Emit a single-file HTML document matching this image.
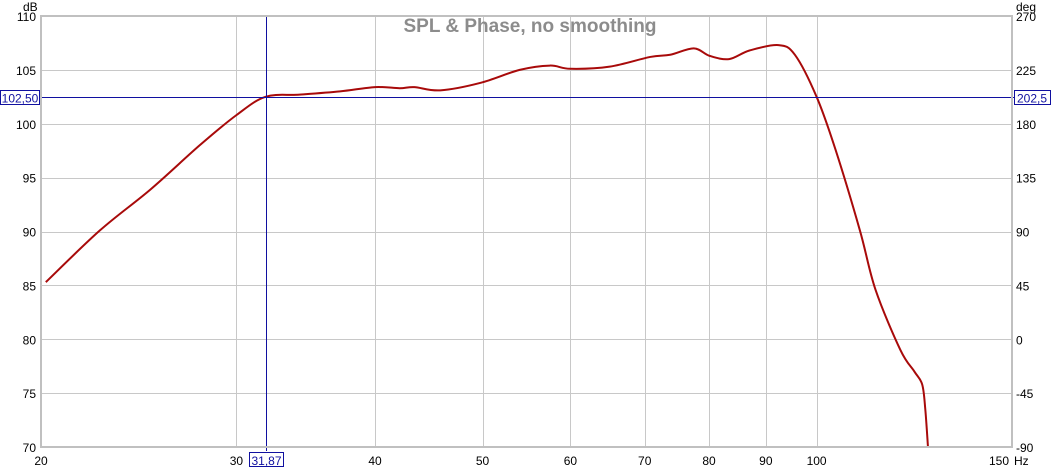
<!DOCTYPE html>
<html><head><meta charset="utf-8"><style>
html,body{margin:0;padding:0;background:#fff;}
svg{display:block;font-family:"Liberation Sans",Arial,sans-serif;}
</style></head><body>
<svg id="chart" width="1061" height="468" viewBox="0 0 1061 468" xmlns="http://www.w3.org/2000/svg">
<g id="grid"></g>
<g id="labels"></g>
<text x="530" y="32" text-anchor="middle" font-size="19" font-weight="bold" fill="#8c8c8c">SPL &amp; Phase, no smoothing</text>
<path id="curve" fill="none" stroke="#a80a0a" stroke-width="2"/>
<g id="cursor"></g>
<rect x="41" y="16" width="971" height="431" fill="none" stroke="#c0c0c0" stroke-width="2"/>
</svg>
<script>
const freqs=[20.2,22.6,25.1,27.8,30,31.87,34.2,37.2,40,42.1,43.4,45.8,49.8,54,57.5,60,65.1,70.8,73.8,77.5,80.1,83.4,87,92.4,95.6,100,104,109.4,113,119,122.5,124.5,125.3,126];
const spl=[85.3,90.1,93.9,98.0,100.8,102.5,102.7,103.0,103.4,103.3,103.4,103.1,103.8,105.0,105.4,105.1,105.3,106.2,106.4,107.0,106.3,106.0,106.8,107.3,106.4,102.5,97.6,90.1,84.6,79.0,77.0,75.8,73.5,70];
const xTicks=[20,30,40,50,60,70,80,90,100,150];
const xTickLabels=["20","30","40","50","60","70","80","90","100","150"];
const yTicks=[70,75,80,85,90,95,100,105,110];
const phaseTicks=["-90","-45","0","45","90","135","180","225","270"];
const cursorX=31.87, cursorY=102.5;
const L=41,R=1012,T=16,B=447;
const NS="http://www.w3.org/2000/svg";
function xs(f){return L+(R-L)*Math.log(f/20)/Math.log(150/20);}
function ys(v){return B-(B-T)*(v-70)/40;}
function mk(tag,attrs,parent,text){const e=document.createElementNS(NS,tag);for(const k in attrs)e.setAttribute(k,attrs[k]);if(text!==undefined)e.textContent=text;parent.appendChild(e);return e;}
const grid=document.getElementById('grid'),lab=document.getElementById('labels');
xTicks.forEach((f,i)=>{const x=xs(f);
 if(i>0&&i<xTicks.length-1){const gx=Math.round(x)+0.5;const l=mk('line',{x1:gx,x2:gx,y1:T,y2:B,stroke:'#c8c8c8','stroke-width':1},grid);}
 const last=i===xTicks.length-1;
 const t=mk('text',{x:last?x-3:x,y:465,'text-anchor':last?'end':'middle','font-size':12,fill:'#000'},lab,xTickLabels[i]);});
const hz=mk('text',{x:1014,y:465,'font-size':12},lab,'Hz');
yTicks.forEach((v,i)=>{const y=ys(v);
 if(i>0&&i<yTicks.length-1){const gy=Math.round(y)+0.5;const l=mk('line',{x1:L,x2:R,y1:gy,y2:gy,stroke:'#c8c8c8','stroke-width':1},grid);}
 const t=mk('text',{x:36,y:y+5,'text-anchor':'end','font-size':12},lab,String(v));
 const p=mk('text',{x:1016,y:y+5,'font-size':12},lab,phaseTicks[i]);});
const db=mk('text',{x:23,y:11,'font-size':12},lab,'dB');
const dg=mk('text',{x:1016,y:11,'font-size':12},lab,'deg');
const pts=freqs.map((f,i)=>[xs(f),ys(spl[i])]);
let d='M'+pts[0][0]+','+pts[0][1];
for(let i=0;i<pts.length-1;i++){const p0=pts[Math.max(0,i-1)],p1=pts[i],p2=pts[i+1],p3=pts[Math.min(pts.length-1,i+2)];
 d+=' C'+(p1[0]+(p2[0]-p0[0])/6)+','+(p1[1]+(p2[1]-p0[1])/6)+' '+(p2[0]-(p3[0]-p1[0])/6)+','+(p2[1]-(p3[1]-p1[1])/6)+' '+p2[0]+','+p2[1];}
document.getElementById('curve').setAttribute('d',d);
const cg=document.getElementById('cursor');const cx=Math.round(xs(cursorX))+0.5,cy=Math.round(ys(cursorY))+0.5;
const C='#1010a0';
mk('line',{x1:cx,x2:cx,y1:T,y2:B+4,stroke:C,'stroke-width':1},cg);
mk('line',{x1:L-2,x2:R+2,y1:cy,y2:cy,stroke:C,'stroke-width':1},cg);
mk('rect',{x:0.5,y:cy-7,width:39,height:14,fill:'#fff',stroke:C},cg);
mk('text',{x:20,y:cy+5,'text-anchor':'middle','font-size':12,fill:C},cg,'102,50');
mk('rect',{x:1014.5,y:cy-7,width:36,height:14,fill:'#fff',stroke:C},cg);
mk('text',{x:1032,y:cy+5,'text-anchor':'middle','font-size':12,fill:C},cg,'202,5');
mk('rect',{x:cx-17,y:452.5,width:34,height:14,fill:'#fff',stroke:C},cg);
mk('text',{x:cx,y:465,'text-anchor':'middle','font-size':12,fill:C},cg,'31,87');
</script>
</body></html>
